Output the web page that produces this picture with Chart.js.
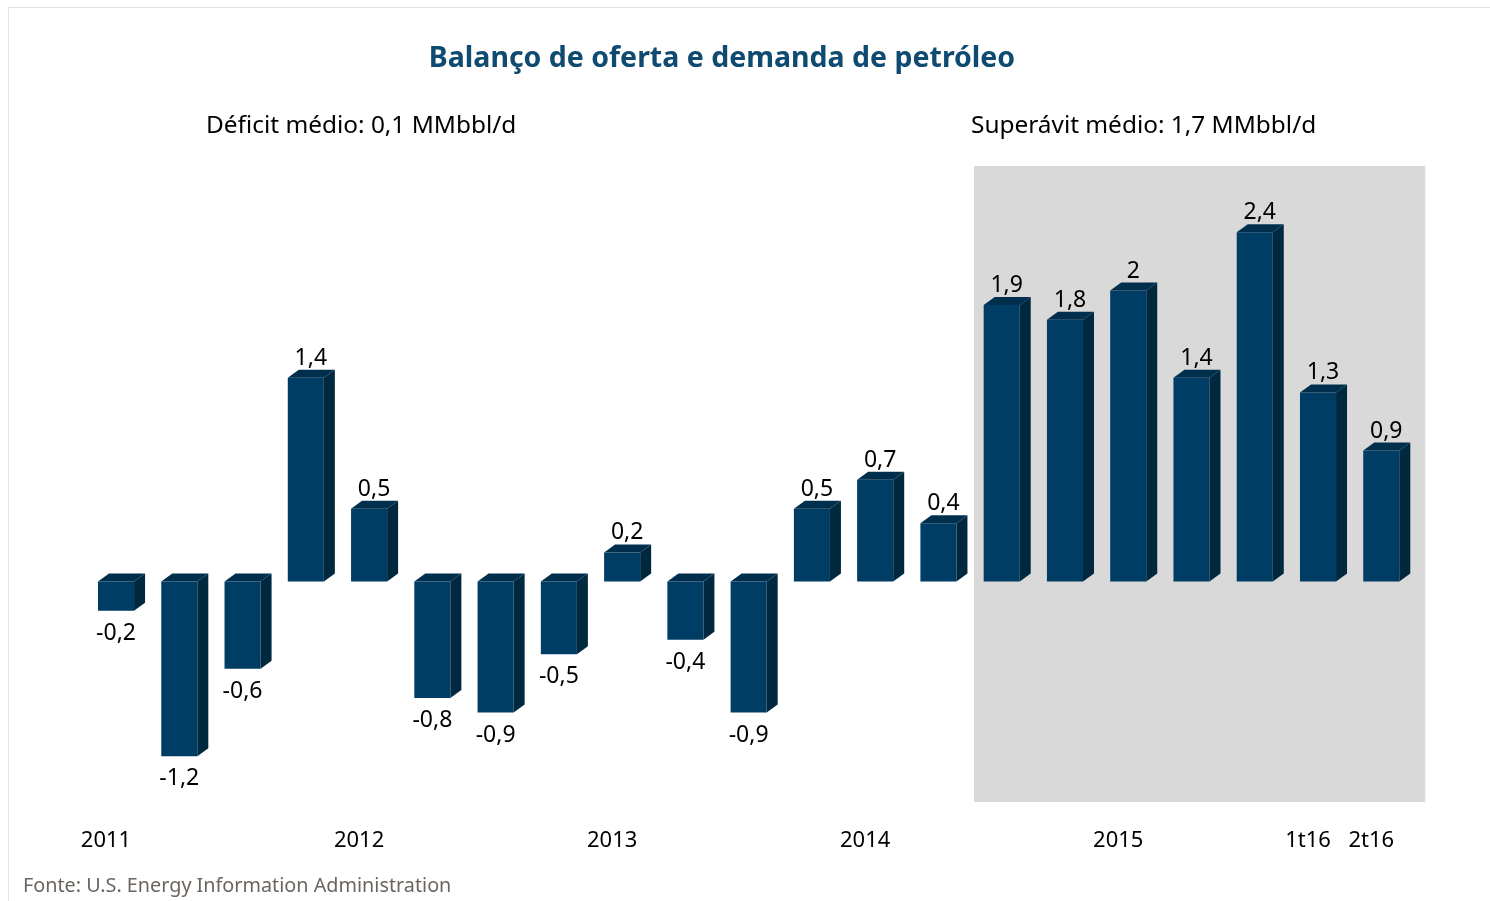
<!DOCTYPE html>
<html>
<head>
<meta charset="utf-8">
<script src="https://cdn.jsdelivr.net/npm/chart.js@4.4.1/dist/chart.umd.min.js"></script>
<style>
  body { margin: 0; background: #fff; font-family: "Noto Sans", sans-serif; }
  #wrap { position: relative; width: 1490px; height: 901px; overflow: hidden; }
  #frame { position: absolute; left: 8px; top: 7px; width: 1490px; height: 901px;
           border-left: 1px solid #e2e2e2; border-top: 1px solid #e2e2e2; }
  canvas { position: absolute; left: 0; top: 0; }
  .txt { position: absolute; white-space: nowrap; line-height: 1; }
  #title { left: 0; width: 1444px; top: 42px; text-align: center; font-size: 28.5px;
           font-weight: bold; color: #0f4a70; }
  .sub { top: 112px; font-size: 24.4px; color: #000; }
  #foot { left: 23px; top: 875px; font-size: 19.8px; color: #6b6560; }
</style>
</head>
<body>
<div id="wrap">
  <div id="frame"></div>
  <canvas id="chart" width="1490" height="901"></canvas>
  <div id="title" class="txt">Balanço de oferta e demanda de petróleo</div>
  <div class="txt sub" style="left:206px">Déficit médio: 0,1 MMbbl/d</div>
  <div class="txt sub" style="left:971px">Superávit médio: 1,7 MMbbl/d</div>
  <div id="foot" class="txt">Fonte: U.S. Energy Information Administration</div>
</div>
<script>
// quarters, only year starts labelled
const periods = ['2011', '', '', '', '2012', '', '', '', '2013', '', '', '', '2014', '', '', '', '2015', '', '', '1t16', '2t16'];
// supply minus demand, MMbbl/d
const balance = [-0.2, -1.2, -0.6, 1.4, 0.5, -0.8, -0.9, -0.5, 0.2, -0.4, -0.9, 0.5, 0.7, 0.4, 1.9, 1.8, 2, 1.4, 2.4, 1.3, 0.9];
// first index of the shaded surplus block
const surplusFrom = 14;

const FRONT = '#003d64', SIDE = '#00283f', TOP = '#002f4e';
const DX = 11, DY = 8;

const fmt = v => String(v).replace('.', ',');

// grey box behind the surplus quarters
const shade = {
  id: 'shade',
  beforeDatasetsDraw(chart) {
    const { ctx, chartArea, scales: { x } } = chart;
    const pitch = x.getPixelForValue(1) - x.getPixelForValue(0);
    const left = x.getPixelForValue(surplusFrom) - pitch / 2 + 4;
    const right = x.getPixelForValue(balance.length - 1) + 44;
    ctx.save();
    ctx.fillStyle = '#d9d9d9';
    ctx.fillRect(left, chartArea.top, right - left, chartArea.bottom - chartArea.top);
    ctx.restore();
  }
};

// fake 3d: top and side faces, plus the value labels
const bars3d = {
  id: 'bars3d',
  afterDatasetsDraw(chart) {
    const { ctx } = chart;
    const meta = chart.getDatasetMeta(0);
    ctx.save();
    meta.data.forEach((bar, i) => {
      const p = bar.getProps(['x', 'y', 'base', 'width'], true);
      const l = p.x - p.width / 2, r = p.x + p.width / 2;
      const top = Math.min(p.y, p.base), bot = Math.max(p.y, p.base);

      ctx.fillStyle = SIDE;
      ctx.beginPath();
      ctx.moveTo(r, top); ctx.lineTo(r + DX, top - DY);
      ctx.lineTo(r + DX, bot - DY); ctx.lineTo(r, bot);
      ctx.closePath(); ctx.fill();

      ctx.fillStyle = TOP;
      ctx.beginPath();
      ctx.moveTo(l, top); ctx.lineTo(l + DX, top - DY);
      ctx.lineTo(r + DX, top - DY); ctx.lineTo(r, top);
      ctx.closePath(); ctx.fill();

      const v = balance[i];
      ctx.fillStyle = '#000';
      ctx.font = '23px "Noto Sans"';
      ctx.textAlign = 'center';
      if (v >= 0) {
        ctx.textBaseline = 'alphabetic';
        ctx.fillText(fmt(v), p.x + 5, top - DY - 5);
      } else {
        ctx.textBaseline = 'top';
        ctx.fillText(fmt(v), p.x, bot + 11);
      }
    });
    ctx.restore();
  }
};

new Chart(document.getElementById('chart'), {
  type: 'bar',
  data: {
    labels: periods,
    datasets: [{
      data: balance,
      backgroundColor: FRONT,
      borderWidth: 0,
      categoryPercentage: 1,
      barPercentage: 0.57
    }]
  },
  options: {
    responsive: false,
    animation: false,
    devicePixelRatio: 1,
    layout: { padding: { left: 84.4, right: 77.1, top: 166, bottom: 20.6 } },
    plugins: { legend: { display: false }, tooltip: { enabled: false } },
    scales: {
      y: { display: false, min: -1.515, max: 2.856 },
      x: {
        grid: { display: false, drawTicks: false },
        border: { display: false },
        ticks: {
          autoSkip: false, maxRotation: 0, padding: 26, labelOffset: -10,
          color: '#000', font: { family: 'Noto Sans', size: 22 }
        }
      }
    }
  },
  plugins: [shade, bars3d]
});
</script>
</body>
</html>
